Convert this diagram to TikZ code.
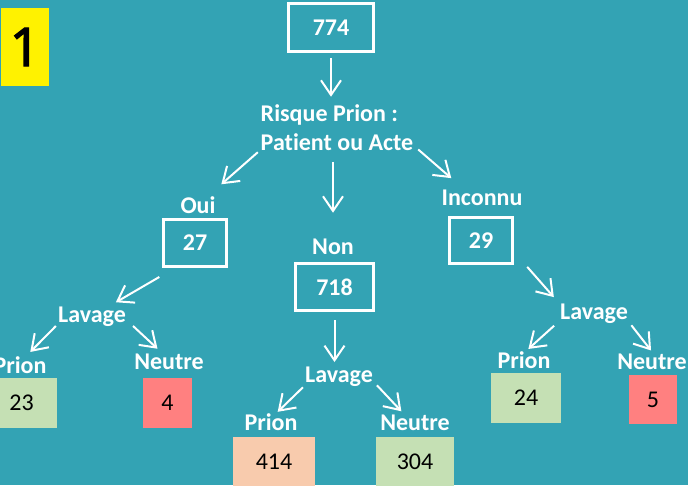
\documentclass[tikz,border=0pt]{standalone}
\usepackage{fontspec}
\setmainfont{Carlito}[Ligatures = NoCommon]
\newfontface\tagfont{Open Sans}[FakeBold = 2.5]
\usetikzlibrary{arrows.meta}
\definecolor{bgblue}{RGB}{51,163,180}
\definecolor{okgreen}{RGB}{197,224,180}
\definecolor{koRed}{RGB}{255,128,128}
\definecolor{peach}{RGB}{248,203,173}
\begin{document}
\begin{tikzpicture}[x = 0.75pt, y = -0.75pt,
    txt/.style = {text = white, font = \fontsize{18pt}{21.75pt}\selectfont\bfseries, inner sep = 2pt},
    lbl/.style = {txt, inner sep = 1.5pt, text height = 11.5pt, text depth = 3.5pt},
    frame/.style = {draw = white, line width = 2.25pt, text = white, font = \fontsize{18pt}{20pt}\selectfont\bfseries, minimum height = 35.25pt},
    count/.style = {text = black, font = \fontsize{18pt}{20pt}\selectfont, minimum height = 37.5pt},
    arr/.style = {white, line width = 1.5pt, -{Straight Barb[length = 11pt, width = 15pt]}, shorten <=2pt, shorten >=2pt}]
    \useasboundingbox (0,0) rectangle (688,485);
    \clip (0,0) rectangle (688,485);
    \fill[bgblue] (0,0) rectangle (688,485);

    \node[fill = yellow, minimum width = 36pt, minimum height = 58.5pt, inner sep = 0pt, font = \tagfont\fontsize{40pt}{40pt}\selectfont] (tag) at (25,47) {1};

    \node[frame, minimum width = 63.75pt, minimum height = 36pt] (total) at (331,27.5) {774};
    \node[txt, align = left] (risque) at (337,128) {Risque Prion :\\Patient ou Acte};
    \node[lbl] (oui) at (198,208) {Oui};
    \node[frame, minimum width = 47.25pt] (n27) at (195,243) {27};
    \node[lbl] (non) at (333,249) {Non};
    \node[frame, minimum width = 58.5pt] (n718) at (334.5,287) {718};
    \node[lbl] (inconnu) at (482,200) {Inconnu};
    \node[frame, minimum width = 47.25pt, minimum height = 34.5pt] (n29) at (481,240.5) {29};

    \node[lbl] (lavOui) at (92,317) {Lavage};
    \node[lbl] (prionOui) at (20,368) {Prion};
    \node[lbl] (neutreOui) at (169,364) {Neutre};
    \node[count, fill = okgreen, minimum width = 53.25pt] (c23) at (21.5,403) {23};
    \node[count, fill = koRed, minimum width = 36.75pt] (c4) at (167.5,403) {4};

    \node[lbl] (lavNon) at (339,377) {Lavage};
    \node[lbl] (prionNon) at (271,425) {Prion};
    \node[lbl] (neutreNon) at (415,425) {Neutre};
    \node[count, fill = peach, minimum width = 61.5pt] (c414) at (274,462) {414};
    \node[count, fill = okgreen, minimum width = 58.5pt] (c304) at (415,462) {304};

    \node[lbl] (lavInc) at (594,314) {Lavage};
    \node[lbl] (prionInc) at (524,363) {Prion};
    \node[lbl] (neutreInc) at (652,364) {Neutre};
    \node[count, fill = okgreen, minimum width = 52.5pt] (c24) at (526,398) {24};
    \node[count, fill = koRed, minimum width = 36pt, minimum height = 36.75pt] (c5) at (653,399.5) {5};

    \draw[arr, shorten <=4pt, shorten >=4pt] (total.south) -- (total.south |- risque.north);
    \draw[arr, shorten <=0pt, shorten >=13pt] (risque.-163) -- (oui.50);
    \draw[arr, shorten <=6pt, shorten >=18pt] (non.north |- risque.south) -- (non.north);
    \draw[arr, shorten >=11pt] (risque.-14) -- (inconnu.148);
    \draw[arr, shorten <=13.4pt, shorten >=3.7pt] (n27.-129) -- (lavOui.32);
    \draw[arr, shorten <=0pt, shorten >=4pt] (lavOui.-166) -- (prionOui.62);
    \draw[arr, shorten <=5pt, shorten >=3.3pt] (lavOui.-7) -- (neutreOui.124);
    \draw[arr, shorten <=6pt, shorten >=2pt] (n718.south) -- (n718.south |- lavNon.north);
    \draw[arr, shorten <=0pt, shorten >=1pt] (lavNon.-164) -- (prionNon.65);
    \draw[arr, shorten >=1.5pt] (lavNon.-10) -- (neutreNon.135);
    \draw[arr, shorten <=15pt, shorten >=4.6pt] (n29.-19) -- (lavInc.north west);
    \draw[arr, shorten <=3.8pt] (lavInc.-167) -- (prionInc.79);
    \draw[arr, shorten <=1.5pt, shorten >=1.2pt] (lavInc.-15) -- (neutreInc.north);
\end{tikzpicture}
\end{document}
